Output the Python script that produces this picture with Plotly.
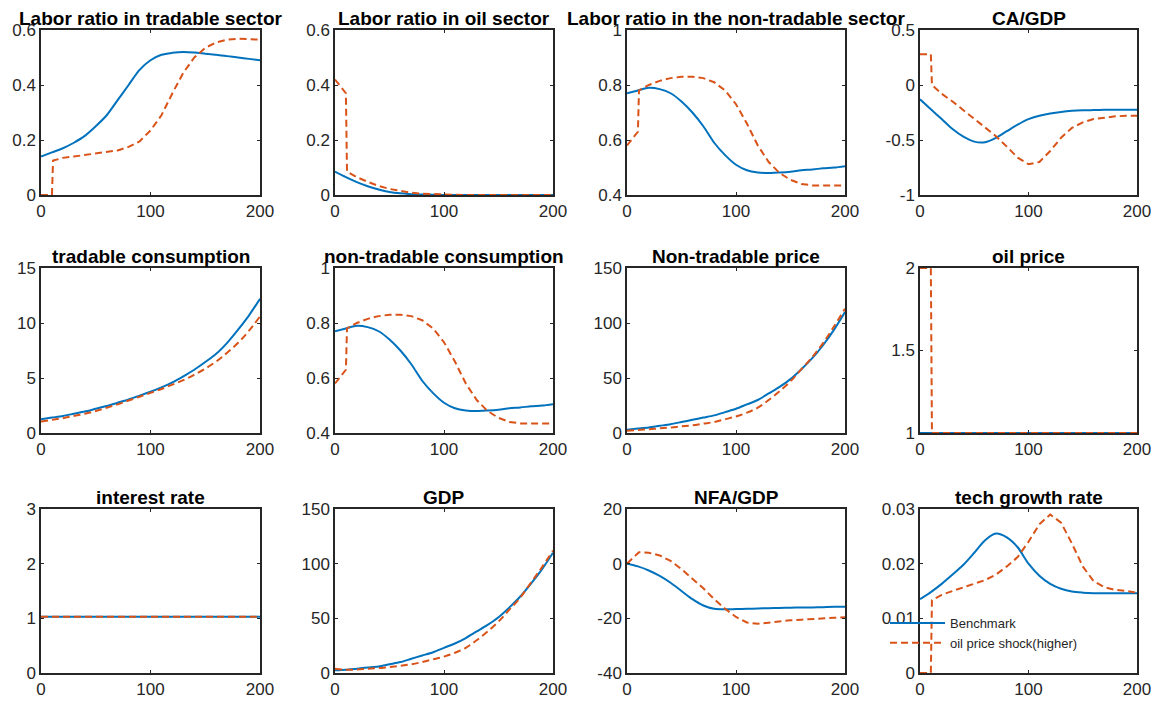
import plotly.graph_objects as go

# ---------------- data ----------------
t = [0, 10, 20, 30, 40, 50, 60, 70, 80, 90, 100, 110, 120, 130, 140, 150, 160, 170, 180, 190, 200]
t_jump = [0, 10, 11, 20, 30, 40, 50, 60, 70, 80, 90, 100, 110, 120, 130, 140, 150, 160, 170, 180, 190, 200]

# Labor ratio in tradable sector
lt_bench = [0.14, 0.155, 0.17, 0.19, 0.215, 0.25, 0.29, 0.345, 0.40, 0.455, 0.49, 0.51, 0.517, 0.52, 0.518, 0.514, 0.51, 0.505, 0.50, 0.495, 0.49]
lt_shock = [0.0, 0.0, 0.125, 0.135, 0.14, 0.145, 0.15, 0.155, 0.162, 0.175, 0.195, 0.235, 0.29, 0.37, 0.445, 0.50, 0.535, 0.555, 0.565, 0.568, 0.567, 0.565]

# Labor ratio in oil sector
lo_bench = [0.085, 0.065, 0.047, 0.032, 0.02, 0.011, 0.006, 0.003, 0.002, 0.001, 0.0, 0.0, 0.0, 0.0, 0.0, 0.0, 0.0, 0.0, 0.0, 0.0, 0.0]
lo_shock = [0.42, 0.37, 0.085, 0.065, 0.048, 0.033, 0.022, 0.014, 0.008, 0.005, 0.003, 0.002, 0.001, 0.0, 0.0, 0.0, 0.0, 0.0, 0.0, 0.0, 0.0, 0.0]

# Labor ratio in the non-tradable sector
ln_bench = [0.77, 0.78, 0.79, 0.785, 0.77, 0.74, 0.70, 0.65, 0.59, 0.545, 0.51, 0.49, 0.482, 0.48, 0.482, 0.485, 0.49, 0.493, 0.497, 0.50, 0.505]
ln_shock = [0.58, 0.63, 0.78, 0.80, 0.815, 0.825, 0.83, 0.83, 0.825, 0.81, 0.78, 0.73, 0.66, 0.58, 0.52, 0.48, 0.455, 0.44, 0.435, 0.435, 0.435, 0.435]

# CA/GDP
ca_bench = [-0.13, -0.22, -0.31, -0.40, -0.47, -0.515, -0.52, -0.48, -0.42, -0.36, -0.31, -0.28, -0.26, -0.245, -0.235, -0.23, -0.228, -0.226, -0.225, -0.225, -0.225]
ca_shock = [0.28, 0.28, 0.0, -0.08, -0.15, -0.23, -0.31, -0.39, -0.465, -0.56, -0.66, -0.72, -0.70, -0.60, -0.48, -0.39, -0.34, -0.31, -0.295, -0.285, -0.28, -0.28]

# tradable consumption
ct_bench = [1.25, 1.4, 1.55, 1.75, 1.95, 2.2, 2.45, 2.75, 3.05, 3.4, 3.75, 4.15, 4.6, 5.15, 5.75, 6.45, 7.2, 8.2, 9.4, 10.7, 12.2]
ct_shock = [1.05, 1.2, 1.35, 1.55, 1.75, 2.0, 2.3, 2.6, 2.95, 3.3, 3.65, 4.0, 4.4, 4.8, 5.3, 5.85, 6.5, 7.3, 8.2, 9.3, 10.6]

# non-tradable consumption
cn_bench = [0.77, 0.78, 0.79, 0.785, 0.77, 0.74, 0.70, 0.65, 0.59, 0.545, 0.51, 0.49, 0.482, 0.48, 0.482, 0.485, 0.49, 0.493, 0.497, 0.50, 0.505]
cn_shock = [0.58, 0.63, 0.78, 0.80, 0.815, 0.825, 0.83, 0.83, 0.825, 0.81, 0.78, 0.73, 0.66, 0.58, 0.52, 0.48, 0.455, 0.44, 0.435, 0.435, 0.435, 0.435]

# Non-tradable price
pn_bench = [3, 4, 5, 6.5, 8, 10, 12, 14, 16, 19, 22, 26, 30, 36, 42, 49, 58, 68, 80, 94, 110]
pn_shock = [2, 2.7, 3.5, 4.2, 5, 6, 7, 8.5, 10, 12.5, 15, 18.5, 23, 30, 38, 47, 58, 69, 82, 97, 113]

# oil price
op_bench = [1.0] * 21
op_shock = [2.0, 2.0, 1.0, 1.0, 1.0, 1.0, 1.0, 1.0, 1.0, 1.0, 1.0, 1.0, 1.0, 1.0, 1.0, 1.0, 1.0, 1.0, 1.0, 1.0, 1.0, 1.0]

# interest rate
ir_bench = [1.03] * 21
ir_shock = [1.03] * 21

# GDP
gdp_bench = [2.5, 3, 4, 5, 6, 8, 10, 13, 16, 19, 23, 27, 32, 38, 44, 51, 60, 70, 82, 95, 110]
gdp_shock = [4, 3, 3.2, 3.8, 4.5, 5.5, 6.5, 8, 10, 12.5, 15, 18.5, 23, 30, 38, 47, 58, 69, 83, 97, 112]

# NFA/GDP
nfa_bench = [0, -1, -2.5, -4.5, -7, -10, -13, -15.3, -16.5, -16.7, -16.6, -16.5, -16.4, -16.3, -16.2, -16.1, -16.0, -16.0, -15.9, -15.8, -15.8]
nfa_shock = [0, 3.5, 4.2, 4.0, 3.0, 1.0, -2.0, -5.5, -9.0, -13.0, -16.5, -19.5, -21.5, -22.0, -21.5, -21.0, -20.7, -20.5, -20.2, -20.0, -19.8, -19.6]

# tech growth rate
tg_bench = [0.0135, 0.0148, 0.0163, 0.018, 0.0198, 0.022, 0.0243, 0.0255, 0.0248, 0.023, 0.020, 0.0178, 0.0163, 0.0154, 0.0149, 0.0147, 0.0146, 0.0146, 0.0146, 0.0146, 0.0146]
tg_shock = [0.0, 0.0, 0.0133, 0.0143, 0.015, 0.0157, 0.0163, 0.017, 0.018, 0.0195, 0.0212, 0.024, 0.0272, 0.029, 0.0275, 0.0237, 0.0195, 0.0168, 0.0157, 0.0152, 0.015, 0.0147]

titles = ["Labor ratio in tradable sector", "Labor ratio in oil sector", "Labor ratio in the non-tradable sector", "CA/GDP",
          "tradable consumption", "non-tradable consumption", "Non-tradable price", "oil price",
          "interest rate", "GDP", "NFA/GDP", "tech growth rate"]
bench_series = [lt_bench, lo_bench, ln_bench, ca_bench, ct_bench, cn_bench, pn_bench, op_bench, ir_bench, gdp_bench, nfa_bench, tg_bench]
shock_series = [lt_shock, lo_shock, ln_shock, ca_shock, ct_shock, cn_shock, pn_shock, op_shock, ir_shock, gdp_shock, nfa_shock, tg_shock]
shock_x = [t_jump, t_jump, t_jump, t_jump, t, t_jump, t, t_jump, t, t, t_jump, t_jump]
y_ranges = [(0, 0.6), (0, 0.6), (0.4, 1), (-1, 0.5), (0, 15), (0.4, 1), (0, 150), (1, 2), (0, 3), (0, 150), (-40, 20), (0, 0.03)]
y_ticks = [[0, 0.2, 0.4, 0.6], [0, 0.2, 0.4, 0.6], [0.4, 0.6, 0.8, 1], [-1, -0.5, 0, 0.5],
           [0, 5, 10, 15], [0.4, 0.6, 0.8, 1], [0, 50, 100, 150], [1, 1.5, 2],
           [0, 1, 2, 3], [0, 50, 100, 150], [-40, -20, 0, 20], [0, 0.01, 0.02, 0.03]]
y_ticktext = [["0", "0.2", "0.4", "0.6"], ["0", "0.2", "0.4", "0.6"], ["0.4", "0.6", "0.8", "1"], ["-1", "-0.5", "0", "0.5"],
              ["0", "5", "10", "15"], ["0.4", "0.6", "0.8", "1"], ["0", "50", "100", "150"], ["1", "1.5", "2"],
              ["0", "1", "2", "3"], ["0", "50", "100", "150"], ["-40", "-20", "0", "20"], ["0", "0.01", "0.02", "0.03"]]
x_ticks = [0, 100, 200]

# ---------------- layout geometry ----------------
OFF = 8                      # default page margin around the plot div
W, H = 1159 - 2 * OFF, 707 - 2 * OFF
col_px = [(41, 260), (335, 553), (627, 845), (920, 1137)]   # in window pixels
row_px = [(30, 195), (268, 433), (509, 673)]


def fx(px):
    return (px - OFF) / W


def fy(px):
    return 1 - (px - OFF) / H


BLUE = "#0072BD"
RED = "#D95319"
AX = "#262626"

fig = go.Figure()
layout = dict(width=W, height=H, margin=dict(l=0, r=0, t=0, b=0, autoexpand=False),
              paper_bgcolor="white", plot_bgcolor="white",
              font=dict(family="Liberation Sans, Arial", color=AX), annotations=[])

for i in range(12):
    r, c = divmod(i, 4)
    n = i + 1
    xa = "xaxis" if n == 1 else f"xaxis{n}"
    ya = "yaxis" if n == 1 else f"yaxis{n}"
    xr = "x" if n == 1 else f"x{n}"
    yr = "y" if n == 1 else f"y{n}"
    x0, x1 = col_px[c]
    y0, y1 = row_px[r]
    common = dict(automargin=False, ticklabeloverflow="allow",
                  showgrid=False, zeroline=False, showline=True, linecolor=AX, linewidth=1.5,
                  mirror="ticks", ticks="inside", ticklen=3, tickcolor=AX,
                  tickfont=dict(size=17, color=AX))
    layout[xa] = dict(domain=[fx(x0), fx(x1)], anchor=yr, range=[0, 200], tickvals=x_ticks,
                      ticktext=[str(v) for v in x_ticks], **common)
    layout[ya] = dict(domain=[fy(y1), fy(y0)], anchor=xr, range=list(y_ranges[i]),
                      tickvals=y_ticks[i], ticktext=y_ticktext[i], **common)
    layout["annotations"].append(dict(text=f"<b>{titles[i]}</b>", xref="paper", yref="paper",
                                      x=fx((x0 + x1) / 2), y=fy(y0 - 12),
                                      xanchor="center", yanchor="middle", showarrow=False,
                                      font=dict(size=19, color="black")))
    jump = shock_x[i] is t_jump
    fig.add_trace(go.Scatter(x=t, y=bench_series[i], xaxis=xr, yaxis=yr, mode="lines",
                             line=dict(color=BLUE, width=2, shape="spline", smoothing=0.8),
                             name="Benchmark", showlegend=(i == 11), legendrank=1))
    fig.add_trace(go.Scatter(x=shock_x[i], y=shock_series[i], xaxis=xr, yaxis=yr, mode="lines",
                             line=dict(color=RED, width=2, dash="7px,4px",
                                       shape="linear" if jump else "spline"),
                             name="oil price shock(higher)", showlegend=(i == 11), legendrank=2))

layout["legend"] = dict(x=fx(885), y=fy(608), xanchor="left", yanchor="top",
                        bgcolor="rgba(0,0,0,0)", borderwidth=0, itemwidth=55,
                        font=dict(size=13, color=AX), tracegroupgap=0)
layout["showlegend"] = True
fig.update_layout(**layout)
fig.write_html("out.html")
